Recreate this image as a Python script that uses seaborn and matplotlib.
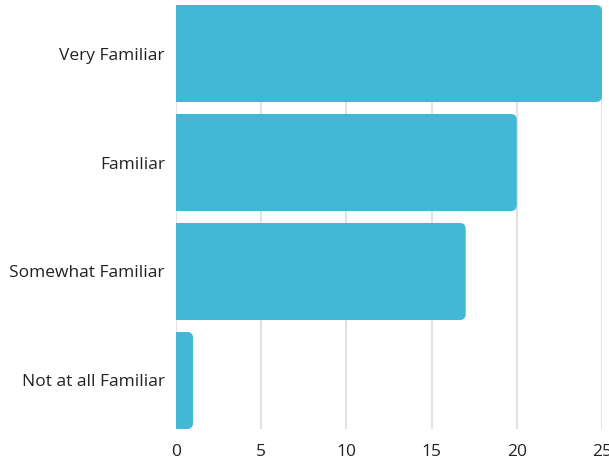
import matplotlib
matplotlib.use("Agg")
import matplotlib.pyplot as plt
import seaborn as sns
import pandas as pd
from matplotlib.patches import FancyBboxPatch

categories = ["Very Familiar", "Familiar", "Somewhat Familiar", "Not at all Familiar"]
values = [25, 20, 17, 1]
xticks = [0, 5, 10, 15, 20, 25]

df = pd.DataFrame({"cat": categories, "val": values})

sns.set_theme(style="white")
plt.rcParams["font.family"] = ["Open Sans", "DejaVu Sans"]

fig = plt.figure(figsize=(6.09, 4.61), dpi=100)
ax = fig.add_axes([176/609, 1-429/461, (602-176)/609, (429-5)/461])

color = "#42B8D6"
width = 0.89
sns.barplot(data=df, x="val", y="cat", orient="h", color=color, width=width,
            saturation=1, ax=ax, zorder=3)

# replace bars with right-rounded versions
xpp = 25/426
ypp = (3 + width) / 424
r = 6 * xpp
for p in list(ax.patches):
    x0, y0 = p.get_x(), p.get_y()
    w, h = p.get_width(), p.get_height()
    p.set_visible(False)
    fb = FancyBboxPatch((x0 - 1.0, y0), w + 1.0, h,
                        boxstyle=f"round,pad=0,rounding_size={r}",
                        mutation_aspect=ypp/xpp,
                        facecolor=color, edgecolor="none", zorder=3)
    ax.add_patch(fb)

ax.set_xlim(0, 25)
ax.set_ylim(3 + width/2, -width/2)
ax.set_xticks(xticks)
ax.set_xticklabels([str(t) for t in xticks])
ax.xaxis.grid(True, color="#e3e3e3", linewidth=1.5, zorder=0)
ax.set_axisbelow(True)
for s in ax.spines.values():
    s.set_visible(False)
ax.tick_params(axis="both", length=0, labelsize=12.5, colors="#222222")
ax.tick_params(axis="x", pad=10.5)
ax.tick_params(axis="y", pad=8)
ax.set_xlabel("")
ax.set_ylabel("")

fig.savefig("out.png", dpi=100)
